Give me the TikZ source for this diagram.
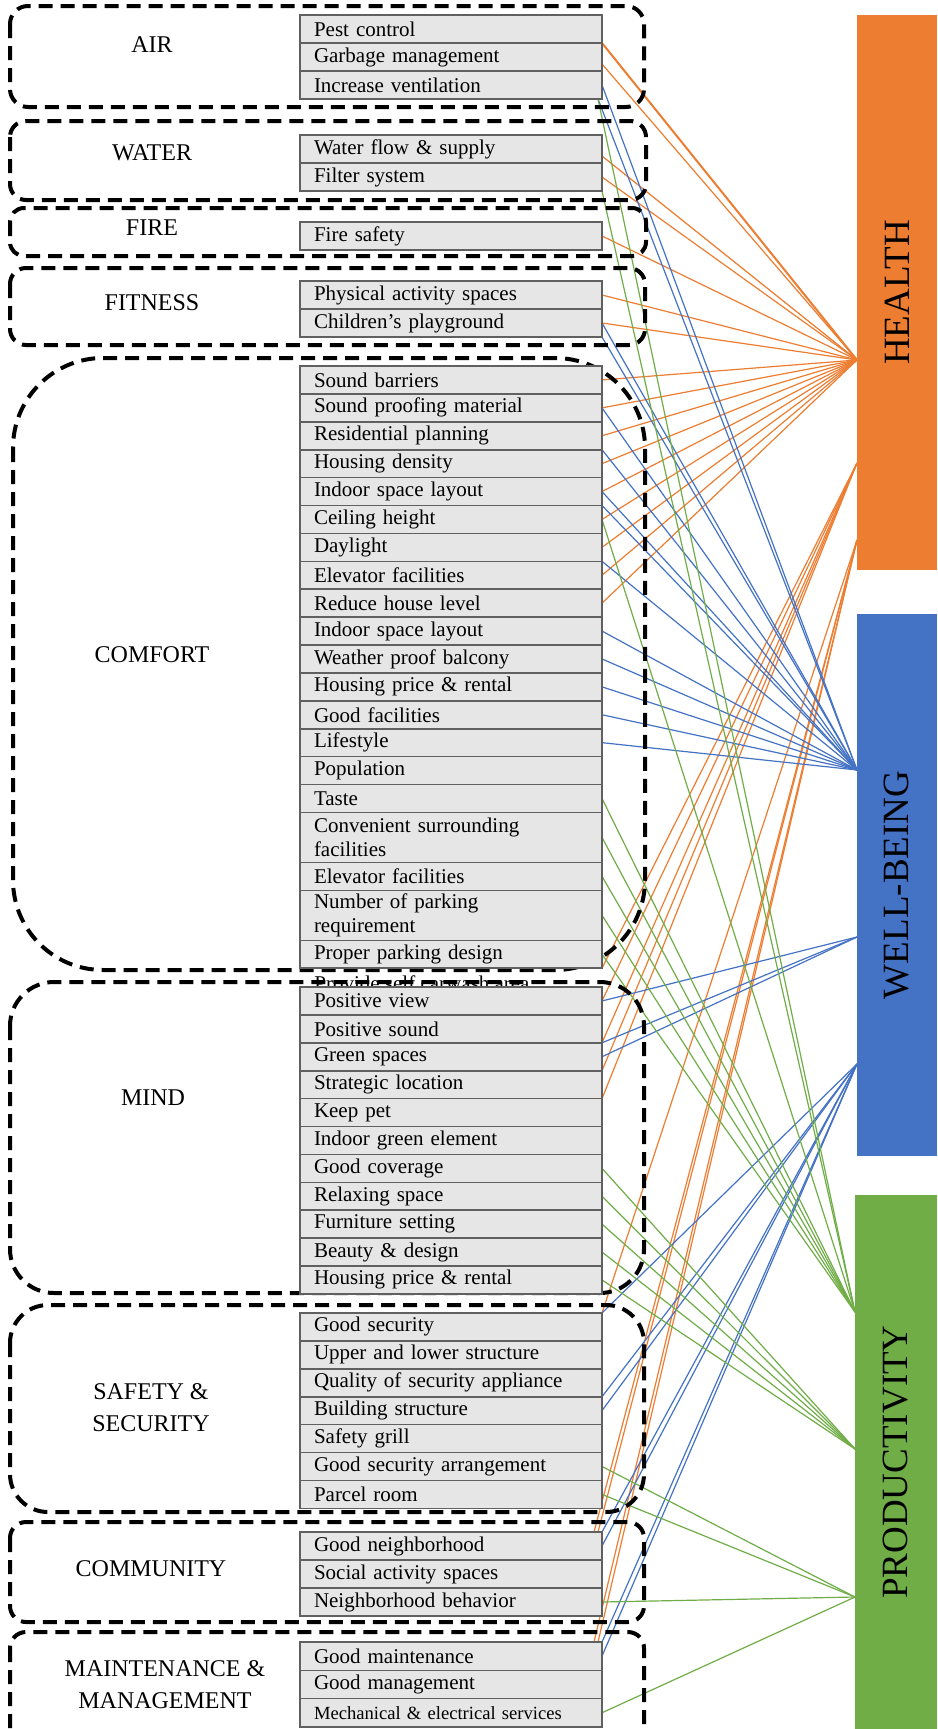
\documentclass[tikz,border=0pt]{standalone}
\usepackage{fontspec}
\setmainfont{Liberation Serif}
\usetikzlibrary{positioning,calc,backgrounds}
\definecolor{hcol}{HTML}{ED7D31}
\definecolor{wcol}{HTML}{4472C4}
\definecolor{pcol}{HTML}{70AD47}
\definecolor{boxfill}{HTML}{E6E6E6}
\definecolor{boxline}{HTML}{606060}
\tikzset{
 item/.style={draw=boxline, fill=boxfill, line width=0.8pt, minimum width=151pt, minimum height=13.95pt, text width=137pt, inner xsep=7pt, inner ysep=0pt, align=left, font=\fontsize{10.5}{12}\selectfont, anchor=north west, outer sep=0pt},
 itemtwo/.style={item, minimum height=25pt},
 grp/.style={draw=black, line width=2pt, dash pattern=on 7pt off 4pt},
 grplabel/.style={font=\fontsize{12}{16}\selectfont, align=center},
 bar/.style={rotate=90, font=\fontsize{18.5}{20}\selectfont, inner sep=0pt},
 hl/.style={draw=hcol, line width=0.6pt},
 wl/.style={draw=wcol, line width=0.6pt},
 pl/.style={draw=pcol, line width=0.6pt},
}
\begin{document}
\begin{tikzpicture}[x=0.5pt,y=-0.5pt]
\useasboundingbox (0,0) rectangle (937,1729);
% partly hidden text
\node[anchor=base west, font=\fontsize{10.5}{12}\selectfont, inner sep=0pt] (carwash) at (314,990) {Provide self carwash area};
% group frames
\draw[grp, rounded corners=9pt] (10,6) rectangle (644,107);
\draw[grp, rounded corners=8pt] (10,121) rectangle (646,200);
\draw[grp, rounded corners=7pt] (10,208) rectangle (646,256);
\draw[grp, rounded corners=8pt] (10,268) rectangle (645,345);
\draw[grp, rounded corners=45pt] (13,358) rectangle (645,970);
\draw[grp, rounded corners=22pt] (10,982) rectangle (644,1293);
\draw[grp, rounded corners=19pt] (10,1305) rectangle (644,1512);
\draw[grp, rounded corners=8pt] (10,1522) rectangle (644,1622);
\draw[grp, rounded corners=8pt] (10,1632) rectangle (644,1750);
% group labels
\node[grplabel] (lair) at (152,45) {AIR};
\node[grplabel] (lwater) at (152,153) {WATER};
\node[grplabel] (lfire) at (152,228) {FIRE};
\node[grplabel] (lfit) at (152,303) {FITNESS};
\node[grplabel] (lcomf) at (152,655) {COMFORT};
\node[grplabel] (lmind) at (153,1098) {MIND};
\node[grplabel] (lsafe) at (151,1408) {SAFETY \&\\SECURITY};
\node[grplabel] (lcomm) at (151,1569) {COMMUNITY};
\node[grplabel] (lmaint) at (165,1685) {MAINTENANCE \&\\MANAGEMENT};
% items: AIR
\node[item, minimum height=14pt] (air1) at (300,15) {Pest control};
\node[item, minimum height=14pt, below=0pt of air1] (air2) {Garbage management};
\node[item, minimum height=14pt, below=0pt of air2] (air3) {Increase ventilation};
% WATER
\node[item, minimum height=14pt] (water1) at (300,135) {Water flow \& supply};
\node[item, minimum height=14pt, below=0pt of water1] (water2) {Filter system};
% FIRE
\node[item, minimum height=14pt] (fire1) at (300,222) {Fire safety};
% FITNESS
\node[item, minimum height=14pt] (fit1) at (300,281) {Physical activity spaces};
\node[item, minimum height=14pt, below=0pt of fit1] (fit2) {Children’s playground};
% COMFORT
\node[item] (com1) at (300,366) {Sound barriers};
\node[item, below=0pt of com1] (com2) {Sound proofing material};
\node[item, below=0pt of com2] (com3) {Residential planning};
\node[item, below=0pt of com3] (com4) {Housing density};
\node[item, below=0pt of com4] (com5) {Indoor space layout};
\node[item, below=0pt of com5] (com6) {Ceiling height};
\node[item, below=0pt of com6] (com7) {Daylight};
\node[item, below=0pt of com7] (com8) {Elevator facilities};
\node[item, below=0pt of com8] (com9) {Reduce house level};
\node[item, below=0pt of com9] (com10) {Indoor space layout};
\node[item, below=0pt of com10] (com11) {Weather proof balcony};
\node[item, below=0pt of com11] (com12) {Housing price \& rental};
\node[item, below=0pt of com12] (com13) {Good facilities};
\node[item, below=0pt of com13] (com14) {Lifestyle};
\node[item, below=0pt of com14] (com15) {Population};
\node[item, below=0pt of com15] (com16) {Taste};
\node[itemtwo, below=0pt of com16] (com17) {Convenient surrounding\\facilities};
\node[item, below=0pt of com17] (com18) {Elevator facilities};
\node[itemtwo, below=0pt of com18] (com19) {Number of parking\\requirement};
\node[item, below=0pt of com19] (com20) {Proper parking design};
% MIND
\node[item] (mind1) at (300,987) {Positive view};
\node[item, below=0pt of mind1] (mind2) {Positive sound};
\node[item, below=0pt of mind2] (mind3) {Green spaces};
\node[item, below=0pt of mind3] (mind4) {Strategic location};
\node[item, below=0pt of mind4] (mind5) {Keep pet};
\node[item, below=0pt of mind5] (mind6) {Indoor green element};
\node[item, below=0pt of mind6] (mind7) {Good coverage};
\node[item, below=0pt of mind7] (mind8) {Relaxing space};
\node[item, below=0pt of mind8] (mind9) {Furniture setting};
\node[item, below=0pt of mind9] (mind10) {Beauty \& design};
\node[item, below=0pt of mind10] (mind11) {Housing price \& rental};
% SAFETY & SECURITY
\node[item] (safe1) at (300,1313) {Good security};
\node[item, below=0pt of safe1] (safe2) {Upper and lower structure};
\node[item, below=0pt of safe2] (safe3) {Quality of security appliance};
\node[item, below=0pt of safe3] (safe4) {Building structure};
\node[item, below=0pt of safe4] (safe5) {Safety grill};
\node[item, below=0pt of safe5] (safe6) {Good security arrangement};
\node[item, below=0pt of safe6] (safe7) {Parcel room};
% COMMUNITY
\node[item, minimum height=14pt] (comm1) at (300,1532) {Good neighborhood};
\node[item, minimum height=14pt, below=0pt of comm1] (comm2) {Social activity spaces};
\node[item, minimum height=14pt, below=0pt of comm2] (comm3) {Neighborhood behavior};
% MAINTENANCE & MANAGEMENT
\node[item, minimum height=14.15pt] (maint1) at (300,1642) {Good maintenance};
\node[item, minimum height=14.15pt, below=0pt of maint1] (maint2) {Good management};
\node[item, minimum height=14.15pt, below=0pt of maint2, font=\fontsize{9.3}{11}\selectfont] (maint3) {Mechanical \& electrical services};
% bars
\node[bar, fill=hcol, minimum width=277.5pt, minimum height=40pt] (health) at (897,292.5) {HEALTH};
\node[bar, fill=wcol, minimum width=271pt, minimum height=40pt] (wellbeing) at (897,885) {WELL-BEING};
\node[bar, fill=pcol, minimum width=267pt, minimum height=41pt] (productivity) at (896,1462) {PRODUCTIVITY};
% convergence points
\coordinate (H1) at (857,360);
\coordinate (H2) at (857,463);
\coordinate (H3) at (857,540);
\coordinate (W1) at (857,770);
\coordinate (W2) at (857,937);
\coordinate (W3) at (857,1064);
\coordinate (P1) at (855,1312);
\coordinate (P2) at (855,1449);
\coordinate (P3) at (855,1597);
\begin{pgfonlayer}{background}
\fill[white] (0,0) rectangle (937,1729);
% HEALTH
\draw[hl, line width=1pt] (air1.south east) -- (H1);
\draw[hl] ($(air2.east)!0.5!(air2.south east)$) -- (H1);
\draw[hl] ($(water1.east)!0.5!(water1.south east)$) -- (H1);
\draw[hl] (water2.east) -- (H1);
\draw[hl] (fire1.east) -- (H1);
\draw[hl] (fit1.east) -- (H1);
\draw[hl] (fit2.east) -- (H1);
\foreach \i in {1,...,9} {\draw[hl] (com\i.east) -- (H1);}
\draw[hl] (com20.south east) -- (H2);
\draw[hl] (mind1.east) -- (H2);
\draw[hl] (mind2.south east) -- (H2);
\draw[hl] (mind3.south east) -- (H2);
\draw[hl] (mind4.south east) -- (H2);
\draw[hl] (safe1.north east) -- (H3);
\draw[hl] ([xshift=-2pt]comm1.north east) -- (H3);
\draw[hl] ([xshift=-4pt]comm1.north east) -- (H3);
\draw[hl] ([xshift=-2pt]maint1.north east) -- (H3);
\draw[hl] ([xshift=-4pt]maint1.north east) -- (H3);
% WELL-BEING
\draw[wl] (air3.east) -- (W1);
\draw[wl] ([xshift=-2pt]air3.south east) -- (W1);
\draw[wl] (fit2.east) -- (W1);
\draw[wl] (fit2.south east) -- (W1);
\draw[wl] (com2.east) -- (W1);
\draw[wl] (com4.north east) -- (W1);
\draw[wl] (com5.east) -- (W1);
\draw[wl] (com6.north east) -- (W1);
\draw[wl] (com7.south east) -- (W1);
\foreach \i in {10,...,14} {\draw[wl] (com\i.east) -- (W1);}
\draw[wl] (mind1.east) -- (W2);
\draw[wl] (mind2.south east) -- (W2);
\draw[wl] (mind3.east) -- (W2);
\draw[wl] (safe1.north east) -- (W3);
\draw[wl] (safe3.south east) -- (W3);
\draw[wl] (safe4.east) -- (W3);
\draw[wl] (comm1.north east) -- (W3);
\draw[wl] (comm1.east) -- (W3);
\draw[wl] (maint1.north east) -- (W3);
\draw[wl] (maint1.east) -- (W3);
% PRODUCTIVITY
\draw[pl] ([xshift=-2pt]air3.south east) -- (P1);
\draw[pl] (water2.south east) -- (P1);
\draw[pl] (com6.east) -- (P1);
\foreach \i in {16,...,20} {\draw[pl] (com\i.east) -- (P1);}
\foreach \i in {7,...,11} {\draw[pl] (mind\i.east) -- (P2);}
\draw[pl] (safe6.east) -- (P3);
\draw[pl] (safe7.east) -- (P3);
\draw[pl] (comm3.east) -- (P3);
\draw[pl] (maint3.east) -- (P3);
\end{pgfonlayer}
\end{tikzpicture}
\end{document}
